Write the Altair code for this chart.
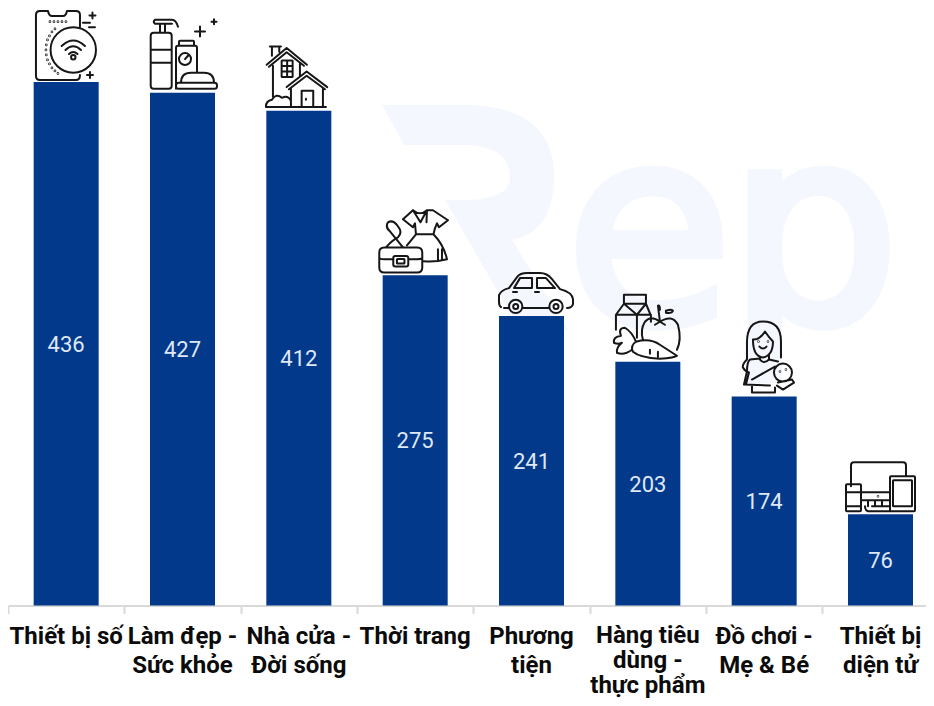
import re
import altair as alt
import pandas as pd

categories = ["Thiết bị số", "Làm đẹp -|Sức khỏe", "Nhà cửa -|Đời sống", "Thời trang",
              "Phương|tiện", "Hàng tiêu|dùng -|thực phẩm", "Đồ chơi -|Mẹ & Bé", "Thiết bị|diện tử"]
values = [436, 427, 412, 275, 241, 203, 174, 76]

BAR = "#03398a"
LINE = "#d9d9d9"
INK = "#161616"
WM = "#f4f7fe"
YMAX = 497.6
PLOT_H = 597.5


def circ(cx, cy, r):
    k = r * 0.5523
    return (f"M{cx-r} {cy} C{cx-r} {cy-k} {cx-k} {cy-r} {cx} {cy-r} "
            f"C{cx+k} {cy-r} {cx+r} {cy-k} {cx+r} {cy} "
            f"C{cx+r} {cy+k} {cx+k} {cy+r} {cx} {cy+r} "
            f"C{cx-k} {cy+r} {cx-r} {cy+k} {cx-r} {cy} Z ")


def rr(x0, y0, x1, y1, r=2):
    return (f"M{x0+r} {y0} L{x1-r} {y0} Q{x1} {y0} {x1} {y0+r} L{x1} {y1-r} Q{x1} {y1} {x1-r} {y1} "
            f"L{x0+r} {y1} Q{x0} {y1} {x0} {y1-r} L{x0} {y0+r} Q{x0} {y0} {x0+r} {y0} Z ")


def plus(x, y, s=3):
    return f"M{x-s} {y} L{x+s} {y} M{x} {y-s} L{x} {y+s} "


def dots(pts):
    return "".join(circ(x, y, 0.35) for x, y in pts)


def shift(d, ox, oy):
    nums = iter(range(10**6))

    def rep(m):
        i = next(nums)
        return f"{float(m.group()) - (ox if i % 2 == 0 else oy):.2f}"
    return re.sub(r"-?\d+\.?\d*", rep, d)


phone = (
    "M80 27 L80 15 Q80 11 76 11 L67 11 Q66 16 63 16 L52 16 Q49 16 48 11 L40 11 Q36 11 36 15 "
    "L36 76 Q36 80 40 80 L76 80 Q80 80 80 75 "
    + circ(73.3, 50, 22.7) + circ(73.3, 57.3, 2.2)
    + "M61.7 46 Q73.3 35 85 46 M65.5 50 Q73.3 42.5 81 50 M69 54 Q73.3 50 77.5 54 "
    + plus(92.5, 15.5) + plus(90, 75) + "M83 22.7 L90 22.7 M89 27.3 L95 27.3 "
    + dots([(50, 21.7), (54, 21.7), (58, 21.7), (62, 21.7), (66, 21.7),
            (55, 29), (52, 32), (49.5, 36), (47.5, 40), (46.3, 45), (46, 50), (46.3, 55),
            (47.5, 60), (49.5, 64), (52, 68), (55, 71), (58, 73.5)])
)
beauty = (
    rr(150.7, 33, 171.7, 89, 3) + "M150.7 50 L171.7 50 M150.7 63 L171.7 63 "
    + "M160 24 L160 33 M165 24 L165 33 "
    + "M155 20 L172 20 Q176 20 178 27 M172 24 L155 24 Q152.5 22 155 20 "
    + "M176 89 L176 48 Q176 46 178 46 L195 46 Q197 46 197 48 L197 73 "
    + rr(179, 41, 194, 46, 1) + circ(185, 59.3, 6) + "M185 59.3 L188 56 "
    + "M181 83 Q181 73 191 73 L204 73 Q214 73 214 83 "
    + rr(176, 83, 217, 89, 2.5)
    + plus(200, 31.7, 5) + plus(214, 22, 2.5)
)
home = (
    "M266.7 65 L286.7 48.3 L307 65 M269 67 L286.7 52.5 L304 66 "
    + "M272 56 L272 46.7 L279.3 46.7 L279.3 52 M270 46.7 L281 46.7 "
    + "M273 66 L273 97 M300 64 L300 77 "
    + rr(281.7, 60.7, 292.7, 77.3, 0.5) + "M287.2 60.7 L287.2 77.3 M281.7 66.2 L292.7 66.2 M281.7 71.8 L292.7 71.8 "
    + "M286.7 87.3 L306.7 71.7 L327.3 87.3 M289 89.5 L306.7 76 L325 89.5 "
    + "M291 88 L291 107 M323 88 L323 107 "
    + "M301.7 107 L301.7 91 L313.3 91 L313.3 107 M306 99 L306 100 "
    + "M266 107.3 L326 107.3 M266 107 Q266 101 272 100 Q276 93 282 98 Q288 95 291 101 "
)
fashion = (
    rr(379.3, 248.3, 422.3, 273.3, 5) + "M379.3 259 Q381 260 385 260 L393.3 260 M408.3 260 L417 260 Q421 260 422.3 259 "
    + rr(393.3, 256.7, 408.3, 267.3, 2) + rr(397, 259.7, 404.5, 264.3, 0.5)
    + "M386 248 Q392 241 398 238 Q403 233 398 227 Q393 220 388 223 Q385 228 390 232 L403 248 "
    + "M413 211 Q420 217 427 211 L433 211 L448 221 L439 228 L437 224 L435 229 "
    + "M413 211 L403 220 L413 228 L415 224 L416 235 M427 211 L426.5 223 M420.5 223 L413 211 "
    + "M420.5 223 L427 211 M416 235 L433.5 235 L435 229 M433.5 235 Q444 246 447 260 Q435 263 424 262 "
    + "M416 235 L407 246 M438 250 L438 261 M442 250 L442 261 "
)
car = (
    "M501 308 Q499 307 499 303 L499 296 Q501 291 509 289 L517 278 Q520 274 527 274 L540 274 Q547 274 552 280 "
    + "L560 290 Q572 293 573 300 L573 305 Q572 309 567 309 M504 309 L508 309 M523 309 L549 309 "
    + circ(515.7, 307.3, 6.7) + circ(515.7, 307.3, 2.5) + circ(556, 307.3, 6.7) + circ(556, 307.3, 2.5)
    + "M514 289 L520 279 L532 279 L532 289 Z M537 289 L537 279 L546 279 L555 289 Z "
    + "M513 293 L517 293 M535 293 L539 293 "
)
food = (
    "M616 330 L616 315 L624 304 L624 295 L646 295 L646 304 L624 304 M646 304 L651 316 L651 322 "
    + "M616 315 L651 315 M637 315 L637 338 M624 304 L637 315 M646 304 L637 315 "
    + "M660 322 Q651 315 645 322 Q640 330 643 340 M660 322 Q672 314 678 325 Q682 340 677 350 "
    + "M660 322 L658 306 Q660 305 660 310 M655 325 L660 322 L665 325 "
    + "M666 311 Q672 309 673 311 Q672 314 666 313 Z "
    + "M636 342 Q650 338 660 345 L677 356 Q675 358 660 359 Q640 358 633 352 Q630 346 636 342 "
    + "M636 342 Q632 332 625 328 Q618 328 621 336 Q613 337 614 343 Q618 345 622 343 Q616 348 617 353 Q624 356 632 350 "
    + "M650 350 L650 354 M658 352 L658 357 "
)
mom = (
    "M747 343 Q747 322 763 322 Q781 322 781 342 L781 358 M747 343 L747 360 Q742 365 743 368 Q745 372 749 373 "
    + "M753 340 Q760 340 765 332 Q769 338 773 342 Q773 356 763 358 Q753 357 753 340 "
    + circ(758.5, 342, 0.3) + circ(768, 342, 0.3) + "M759.5 347 Q763 351 766.5 347 "
    + "M760 357 L760 360 Q764 365 769 360 L769 356 M760 359 L750 360 Q747 362 747 372 L744 385 L770 386 "
    + "M769 360 L778 362 M775 367 L752 380 M749 373 L746 385 "
    + circ(783, 373, 9) + "M778 383 L792 380 L794 383 L783 390 L777 386 M752 386 L752 393 L775 393 L775 388 "
    + circ(780, 372, 0.3) + circ(786, 370, 0.3)
)
devices = (
    "M851 487 L851 466 Q851 463 854 463 L903 463 Q906 463 906 466 L906 477 "
    + rr(846, 485, 861, 512, 1) + "M846 493 L861 493 M846 507 L861 507 "
    + rr(890, 477, 915, 512, 1) + rr(893, 481, 912, 507, 0.5)
    + "M861 493 L890 493 M861 501 L890 501 M875 501 L875 507 M872 507 L890 507 M865 507 Q865 511 868 512 L890 512 "
    + "M868 501 L868 507 M882 501 L882 507 "
    + circ(878, 497, 0.3)
)

# Glyph outlines, with the bar-top centre each was drawn around.
icons = [(phone, 66.2, 82), (beauty, 182.5, 93), (home, 298.9, 111), (fashion, 415.2, 276),
         (car, 531.5, 317), (food, 647.9, 362), (mom, 764.2, 397), (devices, 880.5, 515)]

logo_r = ("M382 105 L470 105 Q554 108 554 176 Q554 232 512 240 L568 330 L520 330 L445 200 L470 200 "
          "Q512 198 510 175 Q508 148 470 145 L404 145 Z")

df = pd.DataFrame({"cat": categories, "value": values})
df["mid"] = df["value"] / 2
df["lines"] = df["cat"].str.count(r"\|") + 1

x = alt.X("cat:N", sort=categories, scale=alt.Scale(range=[0, 930.67], paddingInner=0, paddingOuter=0),
          axis=alt.Axis(title=None, labels=False,
                        tickBand="extent", tickSize=8, tickWidth=2, tickColor=LINE,
                        domainColor=LINE, domainWidth=2))
y = alt.Y("value:Q", scale=alt.Scale(domain=[0, YMAX], nice=False), axis=None)
base = alt.Chart(df)

wm_df = pd.DataFrame({"t": ["e", "p"], "px": [558, 720]})
wm_r = alt.Chart(wm_df.iloc[[0]]).mark_point(shape=shift(logo_r, 8, 8), size=4, filled=True, fill=WM, opacity=1, strokeWidth=0).encode(
    x=alt.value(0), y=alt.value(0))
wm_t = alt.Chart(wm_df).mark_text(font="DejaVu Sans", fontSize=270, color=WM, stroke=WM, strokeWidth=10,
                                  align="left", baseline="alphabetic").encode(
    text="t:N", x=alt.X("px:Q", scale=None), y=alt.value(314))

bars = base.mark_bar(color=BAR, size=65).encode(x=x, y=y)
labels = base.mark_text(font="Roboto", fontSize=22, color="#dfe8f6", dy=1).encode(
    x=alt.X("cat:N", sort=categories), y=alt.Y("mid:Q"), text="value:Q")


def cat_text(data, line_height, top):
    return alt.Chart(data).mark_text(font="Roboto", fontSize=24, fontWeight="bold", color="#0b0b0b", lineBreak="|",
                                     lineHeight=line_height, baseline="top").encode(
        x=alt.X("cat:N", sort=categories), y=alt.value(top), text="cat:N")


cat_two = cat_text(df[df["lines"] < 3], 29, PLOT_H + 19)
cat_three = cat_text(df[df["lines"] == 3], 25, PLOT_H + 18)

icon_layers = []
for i, (path, ox, oy) in enumerate(icons):
    icon_layers.append(
        alt.Chart(df.iloc[[i]]).mark_point(shape=shift(path, ox, oy), size=4, filled=False, stroke=INK,
                                           strokeWidth=2, opacity=1, strokeCap="round", strokeJoin="round").encode(
            x=alt.X("cat:N", sort=categories), y=alt.Y("value:Q"))
    )

chart = alt.layer(wm_r, wm_t, bars, labels, cat_two, cat_three, *icon_layers).properties(
    width=918, height=PLOT_H,
    autosize=alt.AutoSizeParams(type="none"),
    padding={"left": 0, "top": 0, "right": 0, "bottom": 92},
    background="white",
).configure_view(stroke=None)

chart.save("out.html", embed_options={"renderer": "svg", "actions": False})
